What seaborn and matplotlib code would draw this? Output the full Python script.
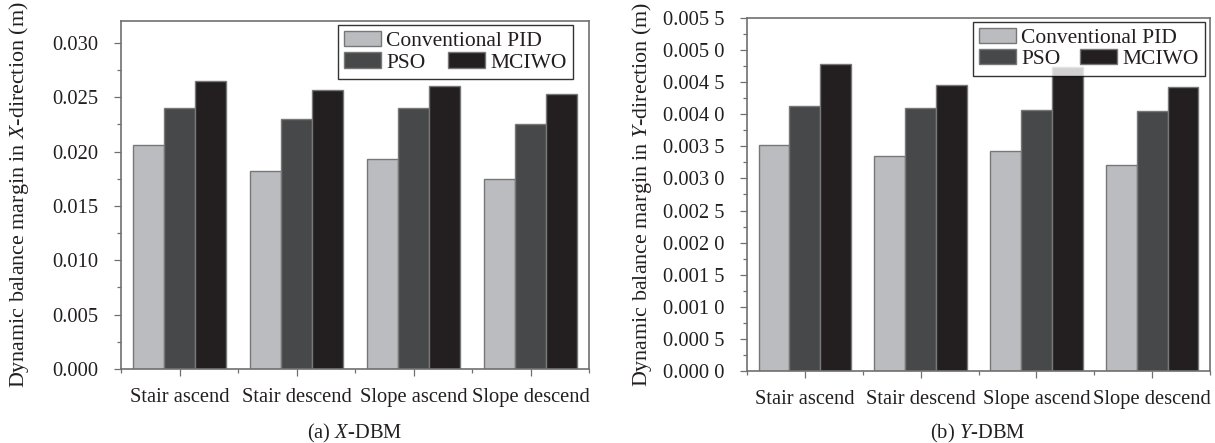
import numpy as np
import pandas as pd
import matplotlib
matplotlib.use("Agg")
import matplotlib.pyplot as plt
from matplotlib.patches import Patch
from matplotlib.ticker import MultipleLocator, FixedLocator
import seaborn as sns

# Data
tasks = ["Stair ascend", "Stair descend", "Slope ascend", "Slope descend"]
methods = ["Conventional PID", "PSO", "MCIWO"]
x_pid = [0.0206, 0.0182, 0.0193, 0.0175]
x_pso = [0.0240, 0.0230, 0.0240, 0.0225]
x_mciwo = [0.0265, 0.0257, 0.0260, 0.0253]
y_pid = [0.00352, 0.00335, 0.00342, 0.00321]
y_pso = [0.00413, 0.00409, 0.00407, 0.00405]
y_mciwo = [0.00479, 0.00446, 0.00474, 0.00442]
x_ticks = [0.000, 0.005, 0.010, 0.015, 0.020, 0.025, 0.030]
x_ticklabels = ["0.000", "0.005", "0.010", "0.015", "0.020", "0.025", "0.030"]
y_ticks = [0.0000, 0.0005, 0.0010, 0.0015, 0.0020, 0.0025, 0.0030,
           0.0035, 0.0040, 0.0045, 0.0050, 0.0055]
y_ticklabels = ["0.000 0", "0.000 5", "0.001 0", "0.001 5", "0.002 0", "0.002 5",
                "0.003 0", "0.003 5", "0.004 0", "0.004 5", "0.005 0", "0.005 5"]

colors = ["#bbbcc0", "#47484a", "#231f20"]
edge = "#777777"
spine_col = "#707070"
txt_col = "#231f20"

sns.set_theme(style="white")
plt.rcParams["font.family"] = ["Liberation Serif", "DejaVu Serif"]
plt.rcParams["mathtext.fontset"] = "custom"
plt.rcParams["mathtext.rm"] = "Liberation Serif"
plt.rcParams["mathtext.it"] = "Liberation Serif:italic"

FS = 14.8    # ticks, captions
YFS = 15.8   # y axis labels
LFS = 15.5   # legend
DPI = 100


def make_df(a, b, c):
    rows = []
    for m, vals in zip(methods, [a, b, c]):
        for t, v in zip(tasks, vals):
            rows.append({"task": t, "method": m, "value": v})
    return pd.DataFrame(rows)


fig = plt.figure(figsize=(12.15, 4.43), dpi=DPI)
ax1 = fig.add_axes([121 / 1215, 1 - 369 / 443, 468 / 1215, 348 / 443])
ax2 = fig.add_axes([747 / 1215, 1 - 371 / 443, 463 / 1215, 353 / 443])

renderer = fig.canvas.get_renderer()


def text_px(s, size):
    t = fig.text(0, 0, s, fontsize=size)
    w = t.get_window_extent(renderer=renderer).width
    t.remove()
    return w


def style_axis(ax, ylim, yt, ylab, minor, label, lab_x):
    ax.set_xlim(-0.5, 3.5)
    ax.set_ylim(*ylim)
    ax.set_yticks(yt)
    ax.set_yticklabels(ylab)
    ax.yaxis.set_minor_locator(MultipleLocator(minor))
    ax.xaxis.set_minor_locator(FixedLocator([-0.5, 0.5, 1.5, 2.5, 3.5]))
    ax.tick_params(axis="both", which="major", direction="out", length=5,
                   width=0.9, color=spine_col, labelsize=FS, labelcolor=txt_col)
    ax.tick_params(axis="both", which="minor", direction="out", length=3,
                   width=0.9, color=spine_col)
    ax.tick_params(axis="y", which="major", pad=11)
    ax.tick_params(axis="x", which="major", pad=9)
    ax.tick_params(left=True, bottom=True)
    ax.tick_params(which="minor", left=True, bottom=True)
    for s in ax.spines.values():
        s.set_visible(True)
        s.set_color(spine_col)
        s.set_linewidth(1.2)
    ax.set_xlabel("")
    ax.set_ylabel(label, fontsize=YFS, color=txt_col)
    ax.yaxis.set_label_coords(lab_x, 0.5)


def add_legend(ax, anchor, col_offset_px):
    fs_px = LFS * DPI / 72
    hl, htp = 1.7, 0.25
    conv_w = text_px("Conventional PID", LFS)
    col1 = hl * fs_px + htp * fs_px + conv_w
    cs = (col_offset_px - col1) / fs_px
    handles = [Patch(facecolor=colors[0], edgecolor=edge),
               Patch(facecolor=colors[1], edgecolor=edge),
               Patch(facecolor="none", edgecolor="none"),
               Patch(facecolor=colors[2], edgecolor=edge)]
    labels = ["Conventional PID", "PSO", "", "MCIWO"]
    leg = ax.legend(handles, labels, ncol=2, loc="upper right",
                    bbox_to_anchor=anchor, borderaxespad=0, fontsize=LFS,
                    handlelength=hl, handleheight=0.7, handletextpad=htp,
                    columnspacing=cs, labelspacing=0.05, borderpad=0.3,
                    fancybox=False, frameon=True)
    leg.get_frame().set_edgecolor("black")
    leg.get_frame().set_linewidth(1.0)
    for t in leg.get_texts():
        t.set_color(txt_col)
    return leg


df_x = make_df(x_pid, x_pso, x_mciwo)
sns.barplot(data=df_x, x="task", y="value", hue="method", order=tasks,
            hue_order=methods, palette=colors, saturation=1, edgecolor=edge,
            linewidth=1.0, width=0.8, errorbar=None, legend=False, ax=ax1)
style_axis(ax1, (0, 0.032), x_ticks, x_ticklabels, 0.0025,
           "Dynamic balance margin in $\\mathit{X}$-direction (m)", -0.192)
add_legend(ax1, (0.966, 0.989), 104)

df_y = make_df(y_pid, y_pso, y_mciwo)
sns.barplot(data=df_y, x="task", y="value", hue="method", order=tasks,
            hue_order=methods, palette=colors, saturation=1, edgecolor=edge,
            linewidth=1.0, width=0.8, errorbar=None, legend=False, ax=ax2)
style_axis(ax2, (0, 0.0055), y_ticks, y_ticklabels, 0.00025,
           "Dynamic balance margin in $\\mathit{Y}$-direction (m)", -0.201)
add_legend(ax2, (0.989, 0.99), 101)

fig.text(355 / 1215, 1 - 433 / 443, "(a) $\\mathit{X}$-DBM", fontsize=FS,
         ha="center", va="center", color=txt_col)
fig.text(978 / 1215, 1 - 433 / 443, "(b) $\\mathit{Y}$-DBM", fontsize=FS,
         ha="center", va="center", color=txt_col)

fig.savefig("out.png", dpi=DPI)
